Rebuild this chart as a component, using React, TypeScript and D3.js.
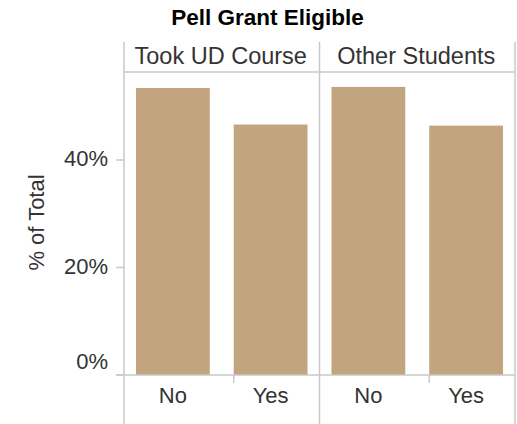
import React from "react";
import * as d3 from "d3";

const panels = ["Took UD Course", "Other Students"];
const categories = ["No", "Yes"];
const tookUD = [0.534, 0.466];
const otherStudents = [0.536, 0.464];
const yTicks = [0, 0.2, 0.4];
const seriesByPanel = [tookUD, otherStudents];

const W = 517;
const H = 424;
const left = 124;
const right = 515;
const headerTop = 42;
const plotTop = 72;
const baseY = 375;
const FONT = "Arial, 'Liberation Sans', sans-serif";
const BAR = "#c2a57f";
const GRID = "#c8c8c8";
const TXT = "#333333";

export default function App() {
  const panelScale = d3.scaleBand<string>().domain(panels).range([left, right]).padding(0);
  const x = d3
    .scaleBand<string>()
    .domain(categories)
    .range([0, panelScale.bandwidth()])
    .paddingInner(0.245)
    .paddingOuter(0.1225);
  const y = d3.scaleLinear().domain([0, (baseY - plotTop) / 537.5]).range([baseY, plotTop]);
  const fmt = d3.format(".0%");
  const step = x.step();

  return (
    <svg width={W} height={H} style={{ position: "absolute", left: 0, top: 0, background: "#fff" }} fontFamily={FONT}>
      <text x={267.5} y={25} textAnchor="middle" fontWeight="bold" fontSize={22.5} fill="#000">
        Pell Grant Eligible
      </text>
      {/* header separator */}
      <line x1={left} x2={right} y1={plotTop} y2={plotTop} stroke={GRID} strokeWidth={1.5} />
      {panels.map((p) => (
        <text
          key={p}
          x={(panelScale(p) as number) + panelScale.bandwidth() / 2 - 1}
          y={64}
          textAnchor="middle"
          fontSize={23.5}
          fill={TXT}
        >
          {p}
        </text>
      ))}
      {/* vertical lines */}
      {[left, ...panels.slice(1).map((p) => panelScale(p) as number), right].map((vx, i) => (
        <line key={i} x1={vx} x2={vx} y1={headerTop} y2={H} stroke={GRID} strokeWidth={1.5} />
      ))}
      {/* bars */}
      {panels.map((p, pi) =>
        categories.map((c, ci) => (
          <rect
            key={p + c}
            x={(panelScale(p) as number) + (x(c) as number)}
            y={y(seriesByPanel[pi][ci])}
            width={x.bandwidth()}
            height={baseY - y(seriesByPanel[pi][ci])}
            fill={BAR}
          />
        ))
      )}
      {/* baseline */}
      <line x1={116} x2={right} y1={baseY} y2={baseY} stroke={GRID} strokeWidth={1.5} />
      {/* category separator ticks */}
      {panels.map((p) => (
        <line
          key={p}
          x1={(panelScale(p) as number) + step * 0.1225 + step}
          x2={(panelScale(p) as number) + step * 0.1225 + step}
          y1={baseY}
          y2={baseY + 8}
          stroke={GRID}
          strokeWidth={1.5}
        />
      ))}
      {/* y ticks */}
      {yTicks.map((t) => (
        <g key={t}>
          <line x1={116} x2={left} y1={y(t)} y2={y(t)} stroke={GRID} strokeWidth={1.5} />
          <text x={108} y={t === 0 ? y(t) - 6 : y(t) + 6} textAnchor="end" fontSize={22} fill={TXT}>
            {fmt(t)}
          </text>
        </g>
      ))}
      <text
        transform={`translate(44,222.5) rotate(-90)`}
        textAnchor="middle"
        fontSize={22}
        fill={TXT}
      >
        % of Total
      </text>
      {/* category labels */}
      {panels.map((p) =>
        categories.map((c) => (
          <text
            key={p + c}
            x={(panelScale(p) as number) + (x(c) as number) + x.bandwidth() / 2}
            y={403}
            textAnchor="middle"
            fontSize={22}
            fill={TXT}
          >
            {c}
          </text>
        ))
      )}
    </svg>
  );
}
